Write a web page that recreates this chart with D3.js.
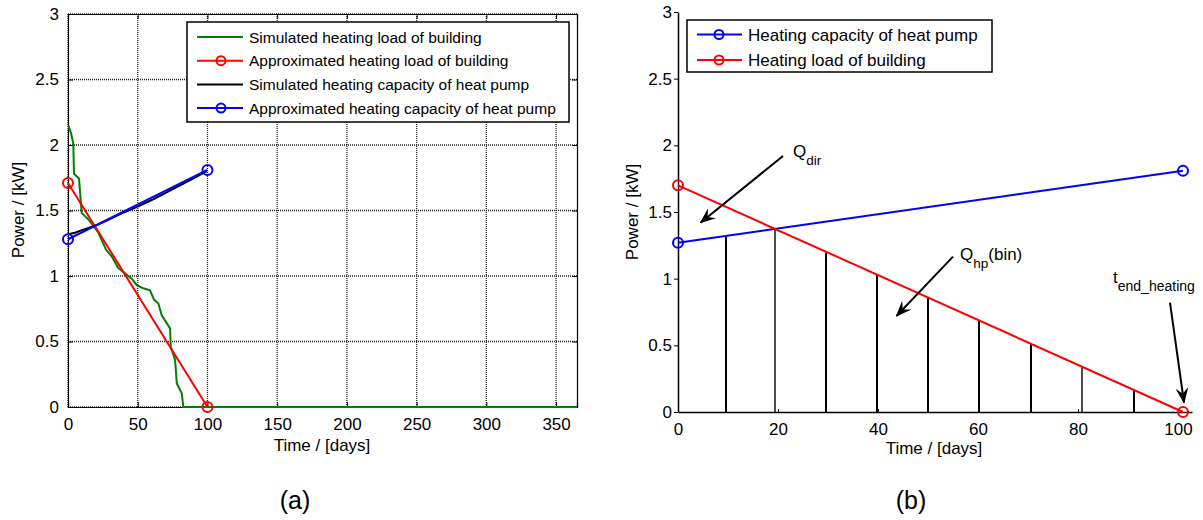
<!DOCTYPE html>
<html>
<head>
<meta charset="utf-8">
<script src="https://cdn.jsdelivr.net/npm/d3@7"></script>
<style>
  body { margin: 0; background: #fff; }
  svg { display: block; font-family: "Liberation Sans", Arial, sans-serif; }
</style>
</head>
<body>
<svg width="1203" height="520"></svg>
<script>
// ---- data: panel (a) ----
const simLoadDays = [0.2, 2.2, 3.8, 4.3, 7.9, 9.8, 13.9, 17, 21.8, 27.3, 31.3, 36.1, 40.9, 45.7, 49.3, 54, 58.8, 61.7, 64.8, 67.2, 70.8, 73.2, 73.7, 76.8, 78, 81.6, 82.7, 365];
const simLoadKW = [2.15, 2.09, 2.01, 1.78, 1.745, 1.48, 1.44, 1.40, 1.33, 1.20, 1.15, 1.06, 1.02, 0.98, 0.93, 0.906, 0.89, 0.82, 0.79, 0.70, 0.64, 0.60, 0.46, 0.36, 0.18, 0.105, 0, 0];
const approxLoadDays = [0, 100];
const approxLoadKW = [1.71, 0];
const simCapDays = [1, 5, 10, 20, 30, 40, 50, 60, 70, 80, 90, 99.5];
const simCapKW = [1.32, 1.33, 1.35, 1.385, 1.435, 1.485, 1.53, 1.58, 1.635, 1.69, 1.745, 1.80];
const approxCapDays = [0, 100];
const approxCapKW = [1.28, 1.81];
const ticksA_x = [0, 50, 100, 150, 200, 250, 300, 350];
const ticksA_y = [0, 0.5, 1, 1.5, 2, 2.5, 3];
const legendA = ['Simulated heating load of building', 'Approximated heating load of building', 'Simulated heating capacity of heat pump', 'Approximated heating capacity of heat pump'];

// ---- data: panel (b) ----
const capDaysB = [0, 101];
const capKWB = [1.27, 1.81];
const loadDaysB = [0, 101];
const loadKWB = [1.70, 0];
const binDays = [9.6, 19.4, 29.6, 39.8, 50, 60.2, 70.6, 80.8, 91.2];
const binKW = [1.321, 1.374, 1.202, 1.03, 0.858, 0.687, 0.512, 0.34, 0.165];
const ticksB_x = [0, 20, 40, 60, 80, 100];
const ticksB_y = [0, 0.5, 1, 1.5, 2, 2.5, 3];
const legendB = ['Heating capacity of heat pump', 'Heating load of building'];
// annotations: [text, subscript, rest, textX, textY, arrowFromX, arrowFromY, arrowToX, arrowToY] (data units)
const notesB = [
  ['Q', 'dir', '', 23, 1.91, 21, 1.92, 4.5, 1.42],
  ['Q', 'hp', '(bin)', 56.4, 1.14, 55, 1.165, 43.7, 0.72],
  ['t', 'end_heating', '', 87, 0.97, 98.4, 0.82, 101.2, 0.07]
];

const svg = d3.select('svg');
svg.append('rect').attr('width', 1203).attr('height', 520).attr('fill', '#fff');

// concave arrow head, as in the figure annotations
svg.append('defs').append('marker')
  .attr('id', 'arr')
  .attr('viewBox', '0 0 16 13')
  .attr('refX', 15).attr('refY', 6.5)
  .attr('markerWidth', 16).attr('markerHeight', 13)
  .attr('markerUnits', 'userSpaceOnUse')
  .attr('orient', 'auto')
  .append('path')
  .attr('d', 'M0,0 L16,6.5 L0,13 L6,6.5 Z')
  .attr('fill', '#000');

const fmt = d3.format('~g');
const zip = (xs, ys) => xs.map((x, i) => [x, ys[i]]);

// ================= panel (a) =================
const xA = d3.scaleLinear().domain([0, 365]).range([68, 577]);
const yA = d3.scaleLinear().domain([0, 3]).range([407, 14]);
const gA = svg.append('g');

// dotted grid
gA.selectAll('.gx').data(ticksA_x).join('line')
  .attr('x1', d => xA(d)).attr('x2', d => xA(d))
  .attr('y1', yA(0)).attr('y2', yA(3))
  .attr('stroke', '#222').attr('stroke-width', 1.3).attr('stroke-dasharray', '1,1');
gA.selectAll('.gy').data(ticksA_y).join('line')
  .attr('x1', xA(0)).attr('x2', xA(365))
  .attr('y1', d => yA(d)).attr('y2', d => yA(d))
  .attr('stroke', '#222').attr('stroke-width', 1.3).attr('stroke-dasharray', '1,1');

// axes (inward ticks)
gA.append('g').attr('transform', `translate(0,${yA(0)})`)
  .call(d3.axisBottom(xA).tickValues(ticksA_x).tickFormat(fmt).tickSize(-5).tickPadding(11));
gA.append('g').attr('transform', `translate(${xA(0)},0)`)
  .call(d3.axisLeft(yA).tickValues(ticksA_y).tickFormat(fmt).tickSize(-5).tickPadding(9));
gA.append('g').attr('transform', `translate(0,${yA(3)})`)
  .call(d3.axisTop(xA).tickValues(ticksA_x).tickFormat('').tickSize(-5));
gA.append('g').attr('transform', `translate(${xA(365)},0)`)
  .call(d3.axisRight(yA).tickValues(ticksA_y).tickFormat('').tickSize(-5));
gA.selectAll('.domain').attr('stroke', '#000').attr('stroke-width', 1.2);
gA.selectAll('.tick line').attr('stroke', '#000');
gA.selectAll('.tick text').attr('font-size', 17).attr('fill', '#000').attr('font-family', '"Liberation Sans", Arial, sans-serif');

const lineA = d3.line().x(d => xA(d[0])).y(d => yA(d[1]));
gA.append('path').datum(zip(simLoadDays, simLoadKW)).attr('d', lineA)
  .attr('fill', 'none').attr('stroke', '#008000').attr('stroke-width', 2);
gA.append('path').datum(zip(simCapDays, simCapKW)).attr('d', lineA)
  .attr('fill', 'none').attr('stroke', '#000').attr('stroke-width', 2);
gA.append('path').datum(zip(approxLoadDays, approxLoadKW)).attr('d', lineA)
  .attr('fill', 'none').attr('stroke', '#f00').attr('stroke-width', 2);
gA.append('path').datum(zip(approxCapDays, approxCapKW)).attr('d', lineA)
  .attr('fill', 'none').attr('stroke', '#00f').attr('stroke-width', 2.2);
gA.selectAll('.mr').data(zip(approxLoadDays, approxLoadKW)).join('circle')
  .attr('cx', d => xA(d[0])).attr('cy', d => yA(d[1])).attr('r', 5)
  .attr('fill', 'none').attr('stroke', '#f00').attr('stroke-width', 2);
gA.selectAll('.mb').data(zip(approxCapDays, approxCapKW)).join('circle')
  .attr('cx', d => xA(d[0])).attr('cy', d => yA(d[1])).attr('r', 5)
  .attr('fill', 'none').attr('stroke', '#00f').attr('stroke-width', 2);

// legend (a)
const legA = gA.append('g');
legA.append('rect').attr('x', 187).attr('y', 22).attr('width', 382).attr('height', 100)
  .attr('fill', '#fff').attr('stroke', '#000').attr('stroke-width', 1.5);
const legAColors = ['#008000', '#f00', '#000', '#00f'];
const legAMarks = [false, true, false, true];
legendA.forEach((t, i) => {
  const y = 37 + i * 23.7;
  legA.append('line').attr('x1', 197).attr('x2', 243).attr('y1', y).attr('y2', y)
    .attr('stroke', legAColors[i]).attr('stroke-width', 2);
  if (legAMarks[i]) {
    legA.append('circle').attr('cx', 221).attr('cy', y).attr('r', 4.5)
      .attr('fill', 'none').attr('stroke', legAColors[i]).attr('stroke-width', 2);
  }
  legA.append('text').attr('x', 249).attr('y', y + 5.5).attr('font-size', 15.5).text(t);
});

gA.append('text').attr('x', 322).attr('y', 451).attr('text-anchor', 'middle')
  .attr('font-size', 17).text('Time / [days]');
gA.append('text').attr('transform', 'translate(24,210) rotate(-90)').attr('text-anchor', 'middle')
  .attr('font-size', 17).text('Power / [kW]');
gA.append('text').attr('x', 295).attr('y', 509).attr('text-anchor', 'middle')
  .attr('font-size', 25).text('(a)');

// ================= panel (b) =================
const xB = d3.scaleLinear().domain([0, 102.8]).range([678, 1192]);
const yB = d3.scaleLinear().domain([0, 3]).range([412, 12]);
const gB = svg.append('g');

gB.append('g').attr('transform', `translate(0,${yB(0)})`)
  .call(d3.axisBottom(xB).tickValues(ticksB_x).tickFormat(fmt).tickSizeInner(-3).tickSizeOuter(0).tickPadding(11));
gB.append('g').attr('transform', `translate(${xB(0)},0)`)
  .call(d3.axisLeft(yB).tickValues(ticksB_y).tickFormat(fmt).tickSizeInner(4).tickSizeOuter(0).tickPadding(2));
gB.selectAll('.domain').attr('stroke', '#000').attr('stroke-width', 1.5);
gB.selectAll('.tick line').attr('stroke', '#000');
gB.selectAll('.tick text').attr('font-size', 17).attr('fill', '#000').attr('font-family', '"Liberation Sans", Arial, sans-serif');

// bins
gB.selectAll('.bin').data(zip(binDays, binKW)).join('line')
  .attr('x1', d => xB(d[0])).attr('x2', d => xB(d[0]))
  .attr('y1', yB(0)).attr('y2', d => yB(d[1]))
  .attr('stroke', '#000').attr('stroke-width', (d, i) => (i % 2 === 0 || i === 3 || i === 5) ? 2 : 1.4);

const lineB = d3.line().x(d => xB(d[0])).y(d => yB(d[1]));
gB.append('path').datum(zip(capDaysB, capKWB)).attr('d', lineB)
  .attr('fill', 'none').attr('stroke', '#00f').attr('stroke-width', 2);
gB.append('path').datum(zip(loadDaysB, loadKWB)).attr('d', lineB)
  .attr('fill', 'none').attr('stroke', '#f00').attr('stroke-width', 2);
gB.selectAll('.mb').data(zip(capDaysB, capKWB)).join('circle')
  .attr('cx', d => xB(d[0])).attr('cy', d => yB(d[1])).attr('r', 5)
  .attr('fill', 'none').attr('stroke', '#00f').attr('stroke-width', 2);
gB.selectAll('.mr').data(zip(loadDaysB, loadKWB)).join('circle')
  .attr('cx', d => xB(d[0])).attr('cy', d => yB(d[1])).attr('r', 5)
  .attr('fill', 'none').attr('stroke', '#f00').attr('stroke-width', 2);

// annotations
notesB.forEach(([t, sub, rest, tx, ty, ax, ay, bx, by]) => {
  gB.append('line').attr('x1', xB(ax)).attr('y1', yB(ay)).attr('x2', xB(bx)).attr('y2', yB(by))
    .attr('stroke', '#000').attr('stroke-width', 2).attr('marker-end', 'url(#arr)');
  const txt = gB.append('text').attr('x', xB(tx)).attr('y', yB(ty)).attr('font-size', 17);
  txt.append('tspan').text(t);
  txt.append('tspan').attr('dy', 8).attr('font-size', sub.length > 5 ? 14 : 13.5).text(sub);
  if (rest) txt.append('tspan').attr('dy', -8).text(rest);
});

// legend (b)
const legB = gB.append('g');
legB.append('rect').attr('x', 687).attr('y', 20).attr('width', 305).attr('height', 52)
  .attr('fill', '#fff').attr('stroke', '#000').attr('stroke-width', 1.5);
const legBColors = ['#00f', '#f00'];
legendB.forEach((t, i) => {
  const y = 34.5 + i * 25.5;
  legB.append('line').attr('x1', 697).attr('x2', 742).attr('y1', y).attr('y2', y)
    .attr('stroke', legBColors[i]).attr('stroke-width', 2);
  legB.append('circle').attr('cx', 719).attr('cy', y).attr('r', 4.5)
    .attr('fill', 'none').attr('stroke', legBColors[i]).attr('stroke-width', 2);
  legB.append('text').attr('x', 748).attr('y', y + 6).attr('font-size', 17).text(t);
});

gB.append('text').attr('x', 934).attr('y', 454).attr('text-anchor', 'middle')
  .attr('font-size', 17).text('Time / [days]');
gB.append('text').attr('transform', 'translate(638,212) rotate(-90)').attr('text-anchor', 'middle')
  .attr('font-size', 17).text('Power / [kW]');
gB.append('text').attr('x', 911).attr('y', 509).attr('text-anchor', 'middle')
  .attr('font-size', 25).text('(b)');
</script>
</body>
</html>
